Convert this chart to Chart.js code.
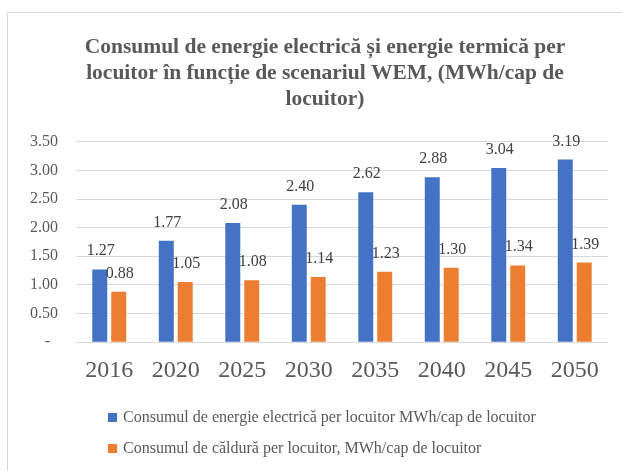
<!DOCTYPE html>
<html>
<head>
<meta charset="utf-8">
<script src="https://cdn.jsdelivr.net/npm/chart.js@4/dist/chart.umd.min.js"></script>
<style>
  html, body { margin: 0; padding: 0; background: #fff; }
  #wrap { position: relative; width: 622px; height: 471px; overflow: hidden; }
  #frame { position: absolute; left: 7px; top: 12px; width: 700px; height: 500px; border: 1px solid #d9d9d9; box-sizing: border-box; }
  #c { position: absolute; left: 0; top: 0; }
  .leg { position: absolute; left: 108px; font: 16px "Liberation Serif", "Times New Roman", serif; line-height: 18px; color: #595959; white-space: nowrap; }
  .leg span.box { display: inline-block; width: 9px; height: 9px; margin-right: 6px; vertical-align: 0px; }
</style>
</head>
<body>
<div id="wrap">
  <div id="frame"></div>
  <!-- canvas a bit wider than the page so the title centre matches the original -->
  <canvas id="c" width="650" height="471"></canvas>
  <div class="leg" id="leg1" style="top:408px"><span class="box" style="background:#4472C4"></span>Consumul de energie electrică per locuitor MWh/cap de locuitor</div>
  <div class="leg" id="leg2" style="top:439px"><span class="box" style="background:#ED7D31"></span>Consumul de căldură per locuitor, MWh/cap de locuitor</div>
</div>
<script>
/*** DATA ***/
const years = ['2016', '2020', '2025', '2030', '2035', '2040', '2045', '2050'];
const electricValues = [1.27, 1.77, 2.08, 2.40, 2.62, 2.88, 3.04, 3.19];
const heatValues = [0.88, 1.05, 1.08, 1.14, 1.23, 1.30, 1.34, 1.39];
const titleLines = [
    'Consumul de energie electrică și energie termică per',
    'locuitor în funcție de scenariul WEM, (MWh/cap de',
    'locuitor)'
];
const electricLabel = 'Consumul de energie electrică per locuitor MWh/cap de locuitor';
const heatLabel = 'Consumul de căldură per locuitor, MWh/cap de locuitor';

const serif = '"Liberation Serif", "Times New Roman", serif';

// Value labels above each bar
const barLabels = {
    id: 'barLabels',
    afterDatasetsDraw(chart) {
        const ctx = chart.ctx;
        ctx.save();
        ctx.font = '16px ' + serif;
        ctx.fillStyle = '#404040';
        ctx.textAlign = 'center';
        ctx.textBaseline = 'alphabetic';
        chart.data.datasets.forEach((ds, i) => {
            const meta = chart.getDatasetMeta(i);
            meta.data.forEach((bar, j) => {
                ctx.fillText(ds.data[j].toFixed(2), bar.x + 1, bar.y - 14);
            });
        });
        ctx.restore();
    }
};

/*** CHART ***/
const chart = new Chart(document.getElementById('c'), {
    type: 'bar',
    data: {
        labels: years,
        datasets: [
            {label: electricLabel, data: electricValues, backgroundColor: '#4472C4'},
            {label: heatLabel, data: heatValues, backgroundColor: '#ED7D31'}
        ]
    },
    options: {
        responsive: false,
        animation: false,
        categoryPercentage: 0.57,
        barPercentage: 0.79,
        layout: {padding: {left: 0, right: 0, top: 0, bottom: 72}},
        plugins: {
            legend: {display: false},
            tooltip: {enabled: false},
            title: {
                display: true,
                text: titleLines,
                color: '#595959',
                font: {family: serif, size: 21.5, weight: 'bold', lineHeight: 1.19},
                padding: {top: 35, bottom: 30}
            }
        },
        scales: {
            x: {
                grid: {display: false, drawTicks: false},
                border: {display: false},
                ticks: {color: '#595959', font: {family: serif, size: 24}, padding: 14, maxRotation: 0}
            },
            y: {
                min: 0, max: 3.5,
                afterFit: (scale) => { scale.width = 76; },
                grid: {color: '#d9d9d9', lineWidth: 1, drawTicks: false},
                border: {display: false},
                ticks: {
                    stepSize: 0.5,
                    color: '#595959',
                    font: {family: serif, size: 16},
                    padding: 18,
                    callback: (v) => v === 0 ? '-  ' : v.toFixed(2)
                }
            },
            // empty right axis, only reserves the margin right of the plot
            yRight: {
                position: 'right',
                min: 0, max: 3.5,
                afterFit: (scale) => { scale.width = 42; },
                grid: {display: false, drawTicks: false},
                border: {display: false},
                ticks: {display: false}
            }
        }
    },
    plugins: [barLabels]
});
</script>
</body>
</html>
